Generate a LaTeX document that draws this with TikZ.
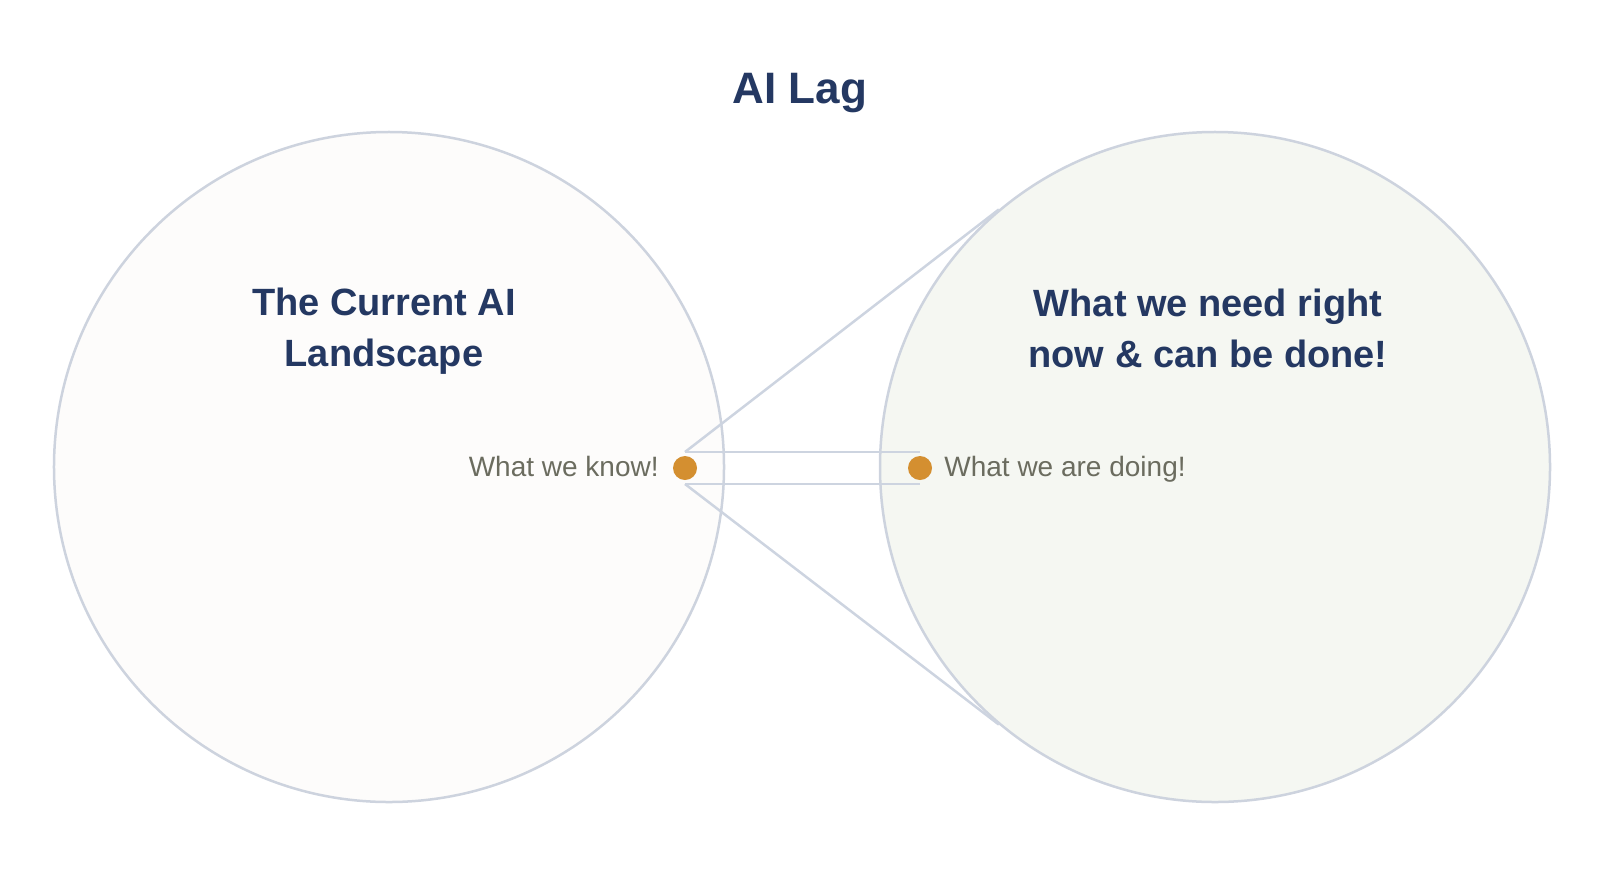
\documentclass[tikz,border=0pt]{standalone}
\usepackage{fontspec}
\setmainfont{Liberation Sans}
\definecolor{navy}{HTML}{243862}
\definecolor{ringc}{HTML}{CDD3DE}
\definecolor{linec}{HTML}{CDD4E0}
\definecolor{lfill}{HTML}{FDFCFB}
\definecolor{rfill}{HTML}{F5F7F2}
\definecolor{dotc}{HTML}{D48F30}
\definecolor{labc}{HTML}{6B6C5F}
\tikzset{
  ring/.style={circle, draw=ringc, line width=1.25bp, minimum size=335bp, inner sep=0pt},
  link/.style={draw=linec, line width=1.25bp},
  dotnode/.style={circle, fill=dotc, minimum size=12bp, inner sep=0pt},
  lab/.style={text=labc, font=\fontsize{14bp}{17bp}\selectfont, inner sep=0pt},
  head/.style={text=navy, font=\bfseries\fontsize{19bp}{25.5bp}\selectfont, align=center, inner sep=0pt},
  titlestyle/.style={text=navy, font=\bfseries\fontsize{22bp}{26bp}\selectfont, inner sep=0pt}
}
\begin{document}
\begin{tikzpicture}[x=0.5bp, y=-0.5bp]
\useasboundingbox (0,0) rectangle (1600,890);
\node[ring, fill=lfill] (L) at (389,467) {};
\node[ring, fill=rfill] (R) at (1215,467) {};
\node[titlestyle, anchor=base] (T) at (800,103) {AI Lag};
\node[head] (HL) at (384,331) {The Current AI\\Landscape};
\node[head] (HR) at (1208,328) {What we need right\\now \& can be done!};
\coordinate (a1) at (685,452);
\coordinate (a2) at (685,484);
\coordinate (b1) at (920,452);
\coordinate (b2) at (920,484);
\draw[link] (a1) -- (R.130.6);
\draw[link] (a2) -- (R.-130.6);
\draw[link] (a1) -- (b1);
\draw[link] (a2) -- (b2);
\node[dotnode] (dL) at (685,468) {};
\node[dotnode] (dR) at (920,468) {};
\node[lab, anchor=base east] (tL) at (659,476) {What we know!};
\node[lab, anchor=base west] (tR) at (944,476) {What we are doing!};
\end{tikzpicture}
\end{document}
